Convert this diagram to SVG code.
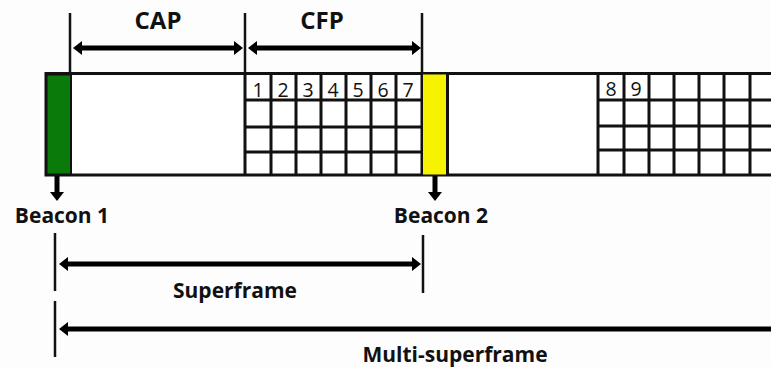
<svg xmlns="http://www.w3.org/2000/svg" width="771" height="367" viewBox="0 0 771 367">
  <style>
    .lbl { font-family: "Open Sans", "Liberation Sans", sans-serif; font-weight: bold; fill: #111; }
    .num { font-family: "Open Sans", "Liberation Sans", sans-serif; font-size: 19.5px; fill: #111; text-anchor: middle; }
    .grid { stroke: #111; stroke-width: 3; fill: none; }
    .tick { stroke: #111; stroke-width: 2.5; }
    .arr { stroke: #000; stroke-width: 5; fill: none; }
  </style>
  <defs>
    <marker id="head" markerUnits="userSpaceOnUse" markerWidth="10" markerHeight="14" refX="1" refY="7" orient="auto-start-reverse">
      <path d="M0,0 L9,7 L0,14 z" fill="#000"/>
    </marker>
  </defs>
  <rect width="771" height="367" fill="#fdfdfd"/>

  <!-- frame strip -->
  <g id="frame">
    <rect x="46" y="73.5" width="730" height="101.5" fill="#fff" stroke="#111" stroke-width="3"/>
  </g>

  <g id="beacon1-slot">
    <rect x="46.5" y="74.5" width="24.5" height="100" fill="#0a7a0a" stroke="#111" stroke-width="2"/>
  </g>

  <!-- contention-free slots, first superframe -->
  <g id="cfp-grid-1">
    <path class="grid" d="M245,73 V175 M271,73 V175 M296,73 V175 M321,73 V175 M346,73 V175 M371,73 V175 M396,73 V175 M422,73 V175
                          M245,100 H422 M245,127 H422 M245,152 H422"/>
    <text class="num" x="258" y="97">1</text>
    <text class="num" x="283" y="97">2</text>
    <text class="num" x="308" y="97">3</text>
    <text class="num" x="333" y="97">4</text>
    <text class="num" x="358" y="97">5</text>
    <text class="num" x="383" y="97">6</text>
    <text class="num" x="408" y="97">7</text>
  </g>

  <g id="beacon2-slot">
    <rect x="423" y="74.5" width="24" height="100" fill="#f7f200"/>
    <path class="grid" d="M447.5,73 V175"/>
  </g>

  <!-- contention-free slots, second superframe -->
  <g id="cfp-grid-2">
    <path class="grid" d="M598,73 V175 M624,73 V175 M649,73 V175 M674,73 V175 M699,73 V175 M724,73 V175 M750,73 V175
                          M598,100 H776 M598,126 H776 M598,150 H776"/>
    <text class="num" x="611" y="96">8</text>
    <text class="num" x="636" y="96">9</text>
  </g>

  <g id="cap-label">
    <text class="lbl" x="158" y="29" font-size="24" text-anchor="middle">CAP</text>
  </g>
  <g id="cfp-label">
    <text class="lbl" x="322" y="29" font-size="24" text-anchor="middle">CFP</text>
  </g>
  <g id="beacon1-label">
    <text class="lbl" x="62" y="223" font-size="21" text-anchor="middle">Beacon 1</text>
  </g>
  <g id="beacon2-label">
    <text class="lbl" x="441" y="223" font-size="21" text-anchor="middle">Beacon 2</text>
  </g>
  <g id="superframe-label">
    <text class="lbl" x="235" y="298" font-size="21" text-anchor="middle">Superframe</text>
  </g>
  <g id="multi-superframe-label">
    <text class="lbl" x="455" y="362" font-size="21" text-anchor="middle">Multi-superframe</text>
  </g>

  <g id="connectors">
    <!-- boundary ticks -->
    <line class="tick" x1="70" y1="13" x2="70" y2="72"/>
    <line class="tick" x1="245" y1="13" x2="245" y2="72"/>
    <line class="tick" x1="422" y1="13" x2="422" y2="72"/>
    <line class="tick" x1="55" y1="233" x2="55" y2="291"/>
    <line class="tick" x1="423" y1="235" x2="423" y2="293"/>
    <line class="tick" x1="55" y1="301" x2="55" y2="357"/>

    <!-- span arrows -->
    <line class="arr" x1="81" y1="48" x2="235" y2="48" marker-start="url(#head)" marker-end="url(#head)"/>
    <line class="arr" x1="256" y1="48" x2="413" y2="48" marker-start="url(#head)" marker-end="url(#head)"/>
    <line class="arr" x1="67" y1="264" x2="413" y2="264" marker-start="url(#head)" marker-end="url(#head)"/>
    <line class="arr" x1="67" y1="329" x2="775" y2="329" marker-start="url(#head)"/>

    <!-- beacon pointers -->
    <line class="arr" x1="57" y1="176" x2="57" y2="193" marker-end="url(#head)"/>
    <line class="arr" x1="435" y1="176" x2="435" y2="193" marker-end="url(#head)"/>
  </g>
</svg>
